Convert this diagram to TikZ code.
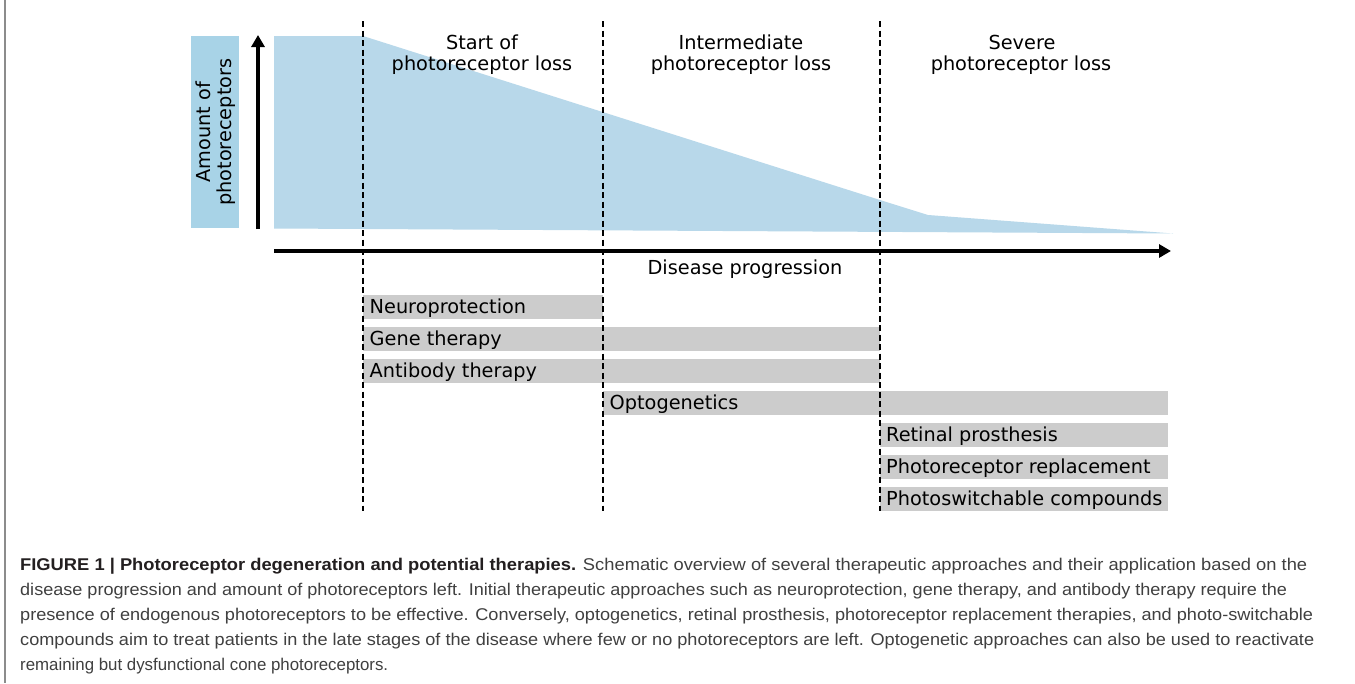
\documentclass[tikz,border=0pt]{standalone}
\usepackage{fontspec}
\usepackage{graphicx}
\usetikzlibrary{arrows.meta}
\newfontfamily\diagfont{DejaVu Sans}
\newfontfamily\capfont{Liberation Sans}

\definecolor{areablue}{HTML}{B8D8EA}
\definecolor{boxblue}{HTML}{A8D3E7}
\definecolor{bargray}{HTML}{CCCCCC}
\definecolor{captext}{HTML}{404040}
\definecolor{capbold}{HTML}{231F20}
\definecolor{rulegray}{HTML}{8C8C8C}

\tikzset{
  lbl/.style={font=\diagfont\fontsize{19.3}{21}\selectfont, inner sep=0pt, text=black},
  bar/.style={fill=bargray, draw=none, inner sep=0pt, minimum height=24pt, anchor=north west},
  axisline/.style={line width=3.4pt, -{Triangle[length=12pt,width=13pt]}},
  stageline/.style={line width=1.5pt, dash pattern=on 6pt off 3.5pt},
  capline/.style={font=\capfont\fontsize{17}{20}\selectfont, text=captext, inner sep=0pt, anchor=base west}
}

\begin{document}
\begin{tikzpicture}[x=1pt, y=-1pt]
\useasboundingbox[fill=white] (0,0) rectangle (1355,683);

% remaining photoreceptors over time
\fill[areablue] (274,36) -- (363,36) -- (880,200) -- (928,215) -- (1173,233.5)
  -- (274,228.5) -- cycle;

% y-axis label box
\node[fill=boxblue, minimum width=48pt, minimum height=192pt, inner sep=0pt,
      anchor=north west] (ybox) at (191,36) {};
\node[lbl, rotate=90, align=center] (ylab) at (ybox.center)
  {Amount of\\photoreceptors};

% therapy bars
\node[bar, minimum width=240pt] (bNeuro) at (363,295) {};
\node[bar, minimum width=517pt] (bGene)  at (363,327) {};
\node[bar, minimum width=517pt] (bAnti)  at (363,359) {};
\node[bar, minimum width=565pt] (bOpto)  at (603,391) {};
\node[bar, minimum width=288pt] (bRet)   at (880,423) {};
\node[bar, minimum width=288pt] (bRep)   at (880,455) {};
\node[bar, minimum width=288pt] (bSw)    at (880,487) {};

\node[lbl, anchor=base west] (tNeuro) at ([xshift=6.5pt, yshift=-18pt]bNeuro.north west) {Neuroprotection};
\node[lbl, anchor=base west] (tGene)  at ([xshift=6.5pt, yshift=-18pt]bGene.north west)  {Gene therapy};
\node[lbl, anchor=base west] (tAnti)  at ([xshift=6.5pt, yshift=-18pt]bAnti.north west)  {Antibody therapy};
\node[lbl, anchor=base west] (tOpto)  at ([xshift=6.5pt, yshift=-18pt]bOpto.north west)  {Optogenetics};
\node[lbl, anchor=base west] (tRet)   at ([xshift=6pt, yshift=-18pt]bRet.north west)     {Retinal prosthesis};
\node[lbl, anchor=base west] (tRep)   at ([xshift=6pt, yshift=-18pt]bRep.north west)     {Photoreceptor replacement};
\node[lbl, anchor=base west] (tSw)    at ([xshift=6pt, yshift=-18pt]bSw.north west)      {Photoswitchable compounds};

% stage boundaries
\coordinate (s1t) at (363,21);  \coordinate (s1b) at (363,511);
\coordinate (s2t) at (603,21);  \coordinate (s2b) at (603,511);
\coordinate (s3t) at (880,21);  \coordinate (s3b) at (880,511);
\draw[stageline] (s1t) -- (s1b);
\draw[stageline] (s2t) -- (s2b);
\draw[stageline] (s3t) -- (s3b);

% axes
\coordinate (yaxB) at (258,229);
\coordinate (yaxT) at (258,35);
\coordinate (xaxL) at (274,251);
\coordinate (xaxR) at (1171,251);
\draw[axisline] (yaxB) -- (yaxT);
\draw[axisline] (xaxL) -- (xaxR);
\node[lbl, anchor=base] (xlab) at (745,274) {Disease progression};

% stage headings
\node[lbl, anchor=base] (h1a) at (482,49) {Start of};
\node[lbl, anchor=base] (h1b) at (482,70) {photoreceptor loss};
\node[lbl, anchor=base] (h2a) at (741,49) {Intermediate};
\node[lbl, anchor=base] (h2b) at (741,70) {photoreceptor loss};
\node[lbl, anchor=base] (h3a) at (1022,49) {Severe};
\node[lbl, anchor=base] (h3b) at (1021,70) {photoreceptor loss};

% caption
\draw[rulegray, line width=1.5pt] (5,0) -- (5,683);
\node[capline] (c1) at (20,570) {\resizebox{1287pt}{\height}{\textcolor{capbold}{\bfseries FIGURE 1 | Photoreceptor degeneration and potential therapies.} Schematic overview of several therapeutic approaches and their application based on the}};
\node[capline] (c2) at (20,595) {\resizebox{1267pt}{\height}{disease progression and amount of photoreceptors left. Initial therapeutic approaches such as neuroprotection, gene therapy, and antibody therapy require the}};
\node[capline] (c3) at (20,620) {\resizebox{1293pt}{\height}{presence of endogenous photoreceptors to be effective. Conversely, optogenetics, retinal prosthesis, photoreceptor replacement therapies, and photo-switchable}};
\node[capline] (c4) at (20,645) {\resizebox{1294pt}{\height}{compounds aim to treat patients in the late stages of the disease where few or no photoreceptors are left. Optogenetic approaches can also be used to reactivate}};
\node[capline] (c5) at (20,670) {\resizebox{368pt}{\height}{remaining but dysfunctional cone photoreceptors.}};
\end{tikzpicture}
\end{document}
